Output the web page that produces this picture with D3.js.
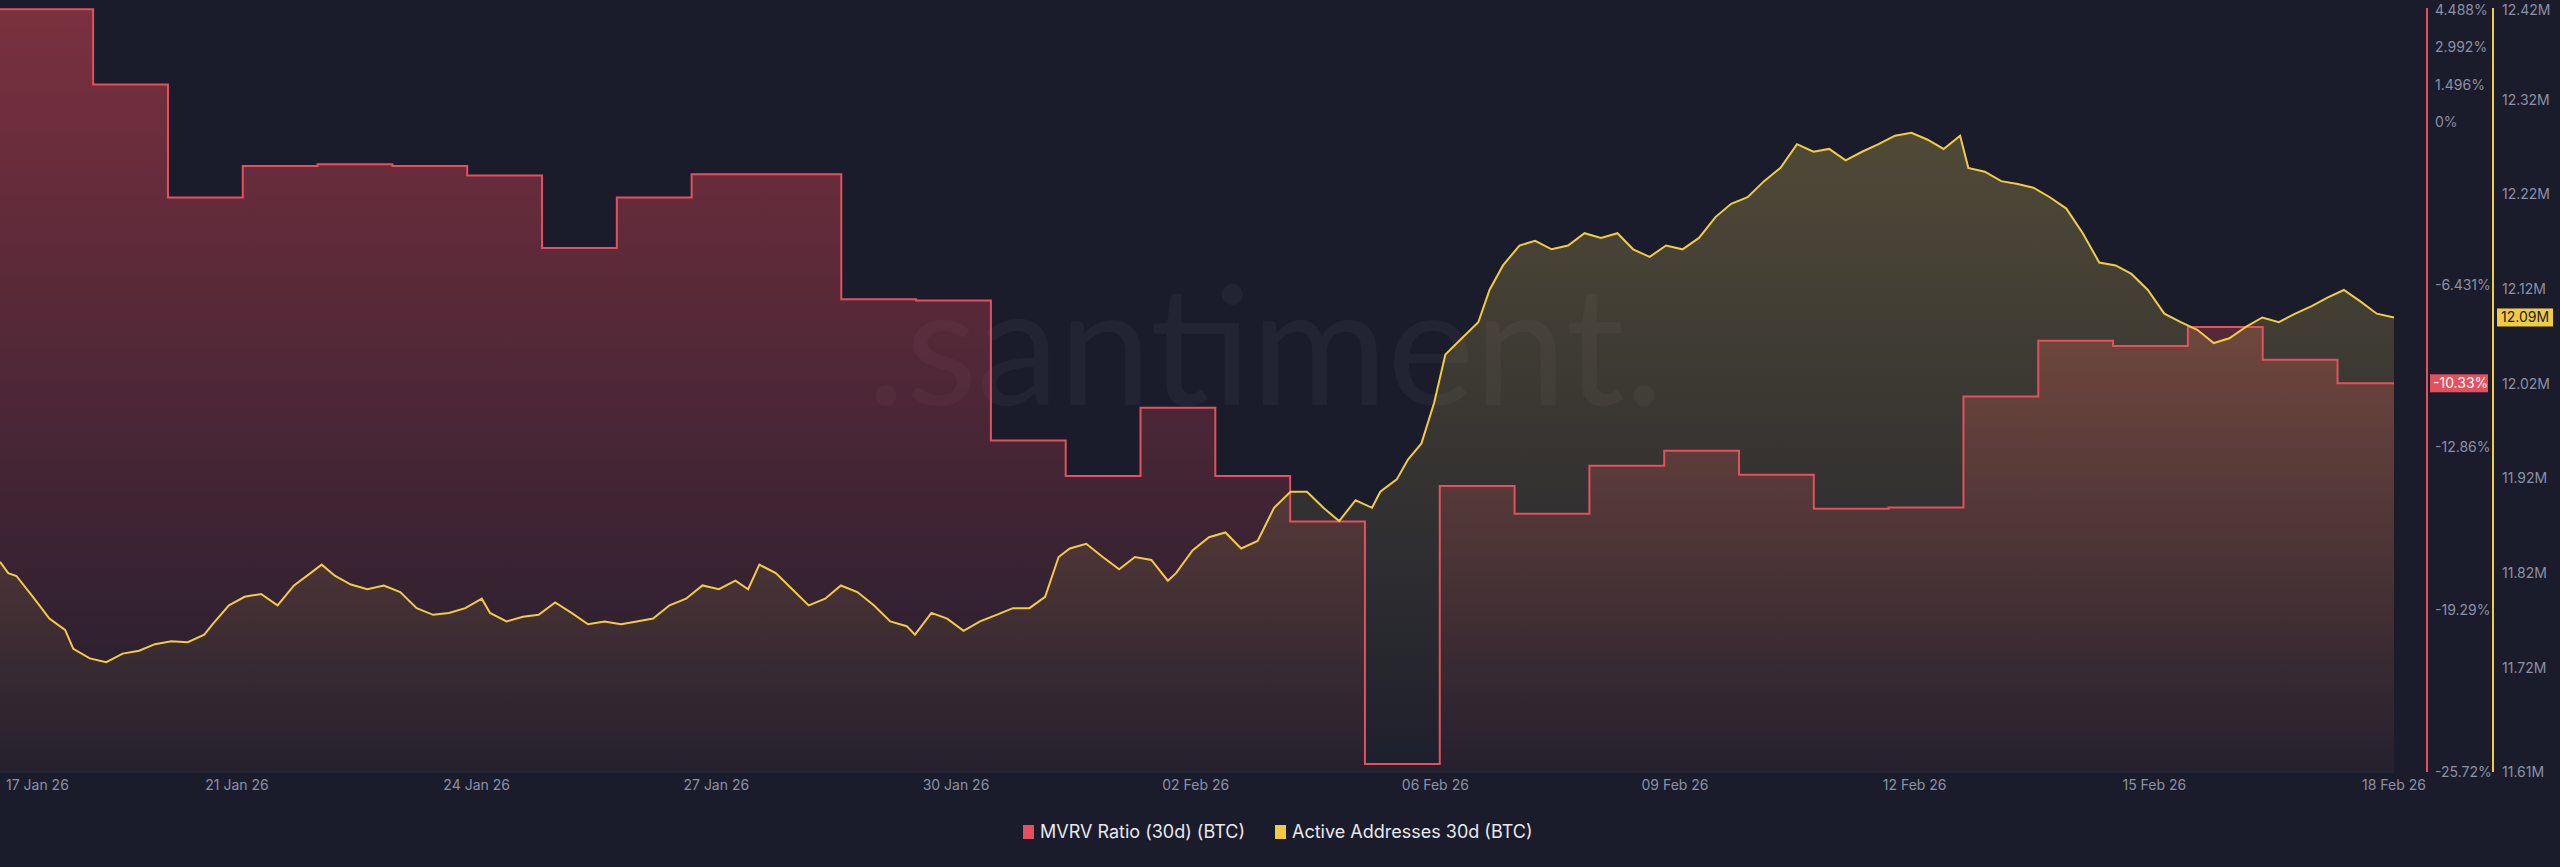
<!DOCTYPE html>
<html><head><meta charset="utf-8">
<script src="https://cdn.jsdelivr.net/npm/d3@7"></script>
<style>html,body{margin:0;background:#1a1c2c;overflow:hidden}</style>
</head><body><svg id="c" width="2560" height="867"></svg>
<script>
const mvrv = [4.48,1.5,-2.97,-1.73,-1.66,-1.73,-2.1,-4.97,-2.97,-2.05,-2.05,-7.0,-7.05,-12.6,-14.0,-11.3,-14.0,-15.8,-25.4,-14.4,-15.5,-13.6,-13.0,-13.95,-15.3,-15.25,-10.85,-8.65,-8.85,-8.1,-9.4,-10.33];
const mvrvStepDays = [0,1.245,2.245,3.245,4.245,5.245,6.245,7.245,8.245,9.245,10.245,11.245,12.245,13.245,14.245,15.245,16.245,17.245,18.245,19.245,20.245,21.245,22.245,23.245,24.245,25.245,26.245,27.245,28.245,29.245,30.245,31.245];
const active = [[0,11.832],[.11,11.82],[.22,11.817],[.44,11.795],[.66,11.772],[.87,11.76],[.98,11.74],[1.2,11.73],[1.42,11.726],[1.64,11.735],[1.86,11.738],[2.07,11.745],[2.29,11.748],[2.51,11.747],[2.73,11.755],[2.84,11.766],[3.06,11.786],[3.27,11.795],[3.49,11.798],[3.71,11.786],[3.93,11.807],[4.15,11.82],[4.3,11.829],[4.48,11.817],[4.69,11.808],[4.91,11.803],[5.13,11.807],[5.35,11.8],[5.57,11.783],[5.79,11.776],[6.0,11.778],[6.22,11.783],[6.44,11.793],[6.55,11.778],[6.77,11.769],[6.99,11.774],[7.2,11.776],[7.42,11.789],[7.64,11.778],[7.86,11.766],[8.08,11.769],[8.3,11.766],[8.51,11.769],[8.73,11.772],[8.95,11.786],[9.17,11.793],[9.39,11.807],[9.61,11.803],[9.83,11.812],[10.0,11.803],[10.15,11.829],[10.37,11.82],[10.59,11.803],[10.81,11.786],[11.03,11.793],[11.24,11.807],[11.46,11.8],[11.68,11.786],[11.9,11.769],[12.12,11.764],[12.23,11.755],[12.45,11.778],[12.66,11.772],[12.88,11.759],[13.1,11.769],[13.32,11.776],[13.54,11.783],[13.76,11.783],[13.97,11.795],[14.15,11.837],[14.3,11.846],[14.52,11.851],[14.74,11.837],[14.96,11.824],[15.17,11.837],[15.39,11.834],[15.61,11.812],[15.72,11.82],[15.94,11.844],[16.16,11.858],[16.38,11.863],[16.59,11.846],[16.81,11.854],[17.03,11.889],[17.25,11.906],[17.47,11.906],[17.69,11.889],[17.9,11.875],[18.12,11.897],[18.34,11.889],[18.45,11.906],[18.67,11.919],[18.82,11.94],[19.0,11.957],[19.17,12.0],[19.32,12.051],[19.54,12.068],[19.76,12.085],[19.91,12.119],[20.09,12.145],[20.31,12.166],[20.52,12.171],[20.74,12.162],[20.96,12.166],[21.18,12.179],[21.4,12.174],[21.62,12.179],[21.83,12.162],[22.05,12.154],[22.27,12.166],[22.49,12.162],[22.71,12.174],[22.93,12.196],[23.14,12.21],[23.36,12.217],[23.58,12.234],[23.8,12.248],[24.02,12.273],[24.24,12.265],[24.45,12.268],[24.67,12.256],[24.89,12.265],[25.11,12.273],[25.33,12.282],[25.55,12.285],[25.76,12.278],[25.98,12.268],[26.2,12.282],[26.31,12.248],[26.53,12.244],[26.75,12.234],[26.97,12.231],[27.18,12.227],[27.4,12.217],[27.62,12.205],[27.84,12.179],[28.06,12.148],[28.28,12.145],[28.49,12.136],[28.71,12.119],[28.93,12.094],[29.15,12.085],[29.37,12.077],[29.59,12.063],[29.8,12.068],[30.02,12.08],[30.24,12.09],[30.46,12.085],[30.68,12.094],[30.9,12.102],[31.11,12.111],[31.33,12.119],[31.55,12.107],[31.77,12.094],[32,12.09]];
const xTickLabels = ["21 Jan 26","24 Jan 26","27 Jan 26","30 Jan 26","02 Feb 26","06 Feb 26","09 Feb 26","12 Feb 26","15 Feb 26","18 Feb 26"];
const firstTickLabel = "17 Jan 26";
const leftTicks = [4.488,2.992,1.496,0,-6.431,-12.86,-19.29,-25.72];
const rightTicks = [12.42,12.32,12.22,12.12,12.02,11.92,11.82,11.72,11.61];

const svg = d3.select("#c");
const W=2394, yTop=8, yBot=772;
const x = d3.scaleLinear().domain([0,32]).range([0,W]);
const yL = d3.scaleLinear().domain([-25.72,4.488]).range([yBot,yTop+1]);
const yR = d3.scaleLinear().domain([11.61,12.42]).range([yBot,yTop-3]);

const defs = svg.append("defs");
const g1 = defs.append("linearGradient").attr("id","gr").attr("x1",0).attr("x2",0).attr("y1",0).attr("y2",1);
g1.append("stop").attr("offset","0%").attr("stop-color","#c9414f").attr("stop-opacity",0.55);
g1.append("stop").attr("offset","100%").attr("stop-color","#c9414f").attr("stop-opacity",0.04);
const g2 = defs.append("linearGradient").attr("id","gy").attr("x1",0).attr("x2",0).attr("y1",0).attr("y2",1);
g2.append("stop").attr("offset","0%").attr("stop-color","#cdb550").attr("stop-opacity",0.3);
g2.append("stop").attr("offset","100%").attr("stop-color","#cdb550").attr("stop-opacity",0.02);

svg.append("text").attr("x",1265).attr("y",405).attr("text-anchor","middle")
  .attr("font-family","Lato, sans-serif").attr("font-size",165).attr("fill","#ffffff").attr("opacity",0.03).text(".santiment.");

const mv = mvrv.map((v,i)=>[mvrvStepDays[i],v]).concat([[32,mvrv[mvrv.length-1]]]);
svg.append("path").datum(mv).attr("fill","url(#gr)")
  .attr("d",d3.area().curve(d3.curveStepAfter).x(d=>x(d[0])).y0(yBot).y1(d=>yL(d[1])));
svg.append("path").datum(active).attr("fill","url(#gy)")
  .attr("d",d3.area().x(d=>x(d[0])).y0(yBot).y1(d=>yR(d[1])));
svg.append("path").datum(mv).attr("fill","none").attr("stroke","#e2515d").attr("stroke-width",2)
  .attr("d",d3.line().curve(d3.curveStepAfter).x(d=>x(d[0])).y(d=>yL(d[1])));
svg.append("path").datum(active).attr("fill","none").attr("stroke","#f2cb45").attr("stroke-width",2)
  .attr("d",d3.line().x(d=>x(d[0])).y(d=>yR(d[1])));

svg.append("line").attr("x1",0).attr("x2",W).attr("y1",yBot).attr("y2",yBot).attr("stroke","#262a3c").attr("stroke-width",1);

const tf = {fam:"Inter, 'Open Sans', sans-serif", col:"#8c90a4"};
const tickPos = d3.scaleLinear().domain([0,xTickLabels.length-1]).range([237,W]);
svg.append("text").attr("x",6).attr("y",790).attr("font-family",tf.fam).attr("font-size",14).attr("fill",tf.col).text(firstTickLabel);
svg.selectAll(".xt").data(xTickLabels).join("text").attr("x",(d,i)=>tickPos(i)).attr("y",790)
  .attr("text-anchor","middle").attr("font-family",tf.fam).attr("font-size",14).attr("fill",tf.col).text(d=>d);

svg.append("line").attr("x1",2427).attr("x2",2427).attr("y1",yTop).attr("y2",yBot).attr("stroke","#e2515d").attr("stroke-width",2);
svg.append("line").attr("x1",2493).attr("x2",2493).attr("y1",yTop).attr("y2",yBot).attr("stroke","#f2cb45").attr("stroke-width",2);
svg.selectAll(".lt").data(leftTicks).join("text").attr("x",2435).attr("y",d=>Math.max(yL(d)+5,15))
  .attr("font-family",tf.fam).attr("font-size",14).attr("fill",tf.col).text(d=>(d===0?"0":d)+"%");
svg.selectAll(".rt").data(rightTicks).join("text").attr("x",2502).attr("y",d=>Math.max(yR(d)+5,15))
  .attr("font-family",tf.fam).attr("font-size",14).attr("fill",tf.col).text(d=>d.toFixed(2)+"M");

const lastM = mvrv[mvrv.length-1], lastA = active[active.length-1][1];
svg.append("rect").attr("x",2430).attr("y",yL(lastM)-9).attr("width",58).attr("height",18).attr("fill","#e2515d");
svg.append("text").attr("x",2433).attr("y",yL(lastM)+5).attr("font-family",tf.fam).attr("font-size",14).attr("fill","#fff").text(lastM+"%");
svg.append("rect").attr("x",2497).attr("y",yR(lastA)-9).attr("width",56).attr("height",18).attr("fill","#f2cb45");
svg.append("text").attr("x",2501).attr("y",yR(lastA)+5).attr("font-family",tf.fam).attr("font-size",14).attr("fill","#1a1c2c").text(lastA.toFixed(2)+"M");

const leg = svg.append("g").attr("font-family",tf.fam).attr("font-size",18).attr("fill","#e8e9ee");
leg.append("rect").attr("x",1023).attr("y",825).attr("width",11).attr("height",14).attr("fill","#e2515d");
leg.append("text").attr("x",1040).attr("y",838).text("MVRV Ratio (30d) (BTC)");
leg.append("rect").attr("x",1275).attr("y",825).attr("width",11).attr("height",14).attr("fill","#f2cb45");
leg.append("text").attr("x",1292).attr("y",838).text("Active Addresses 30d (BTC)");
</script></body></html>
